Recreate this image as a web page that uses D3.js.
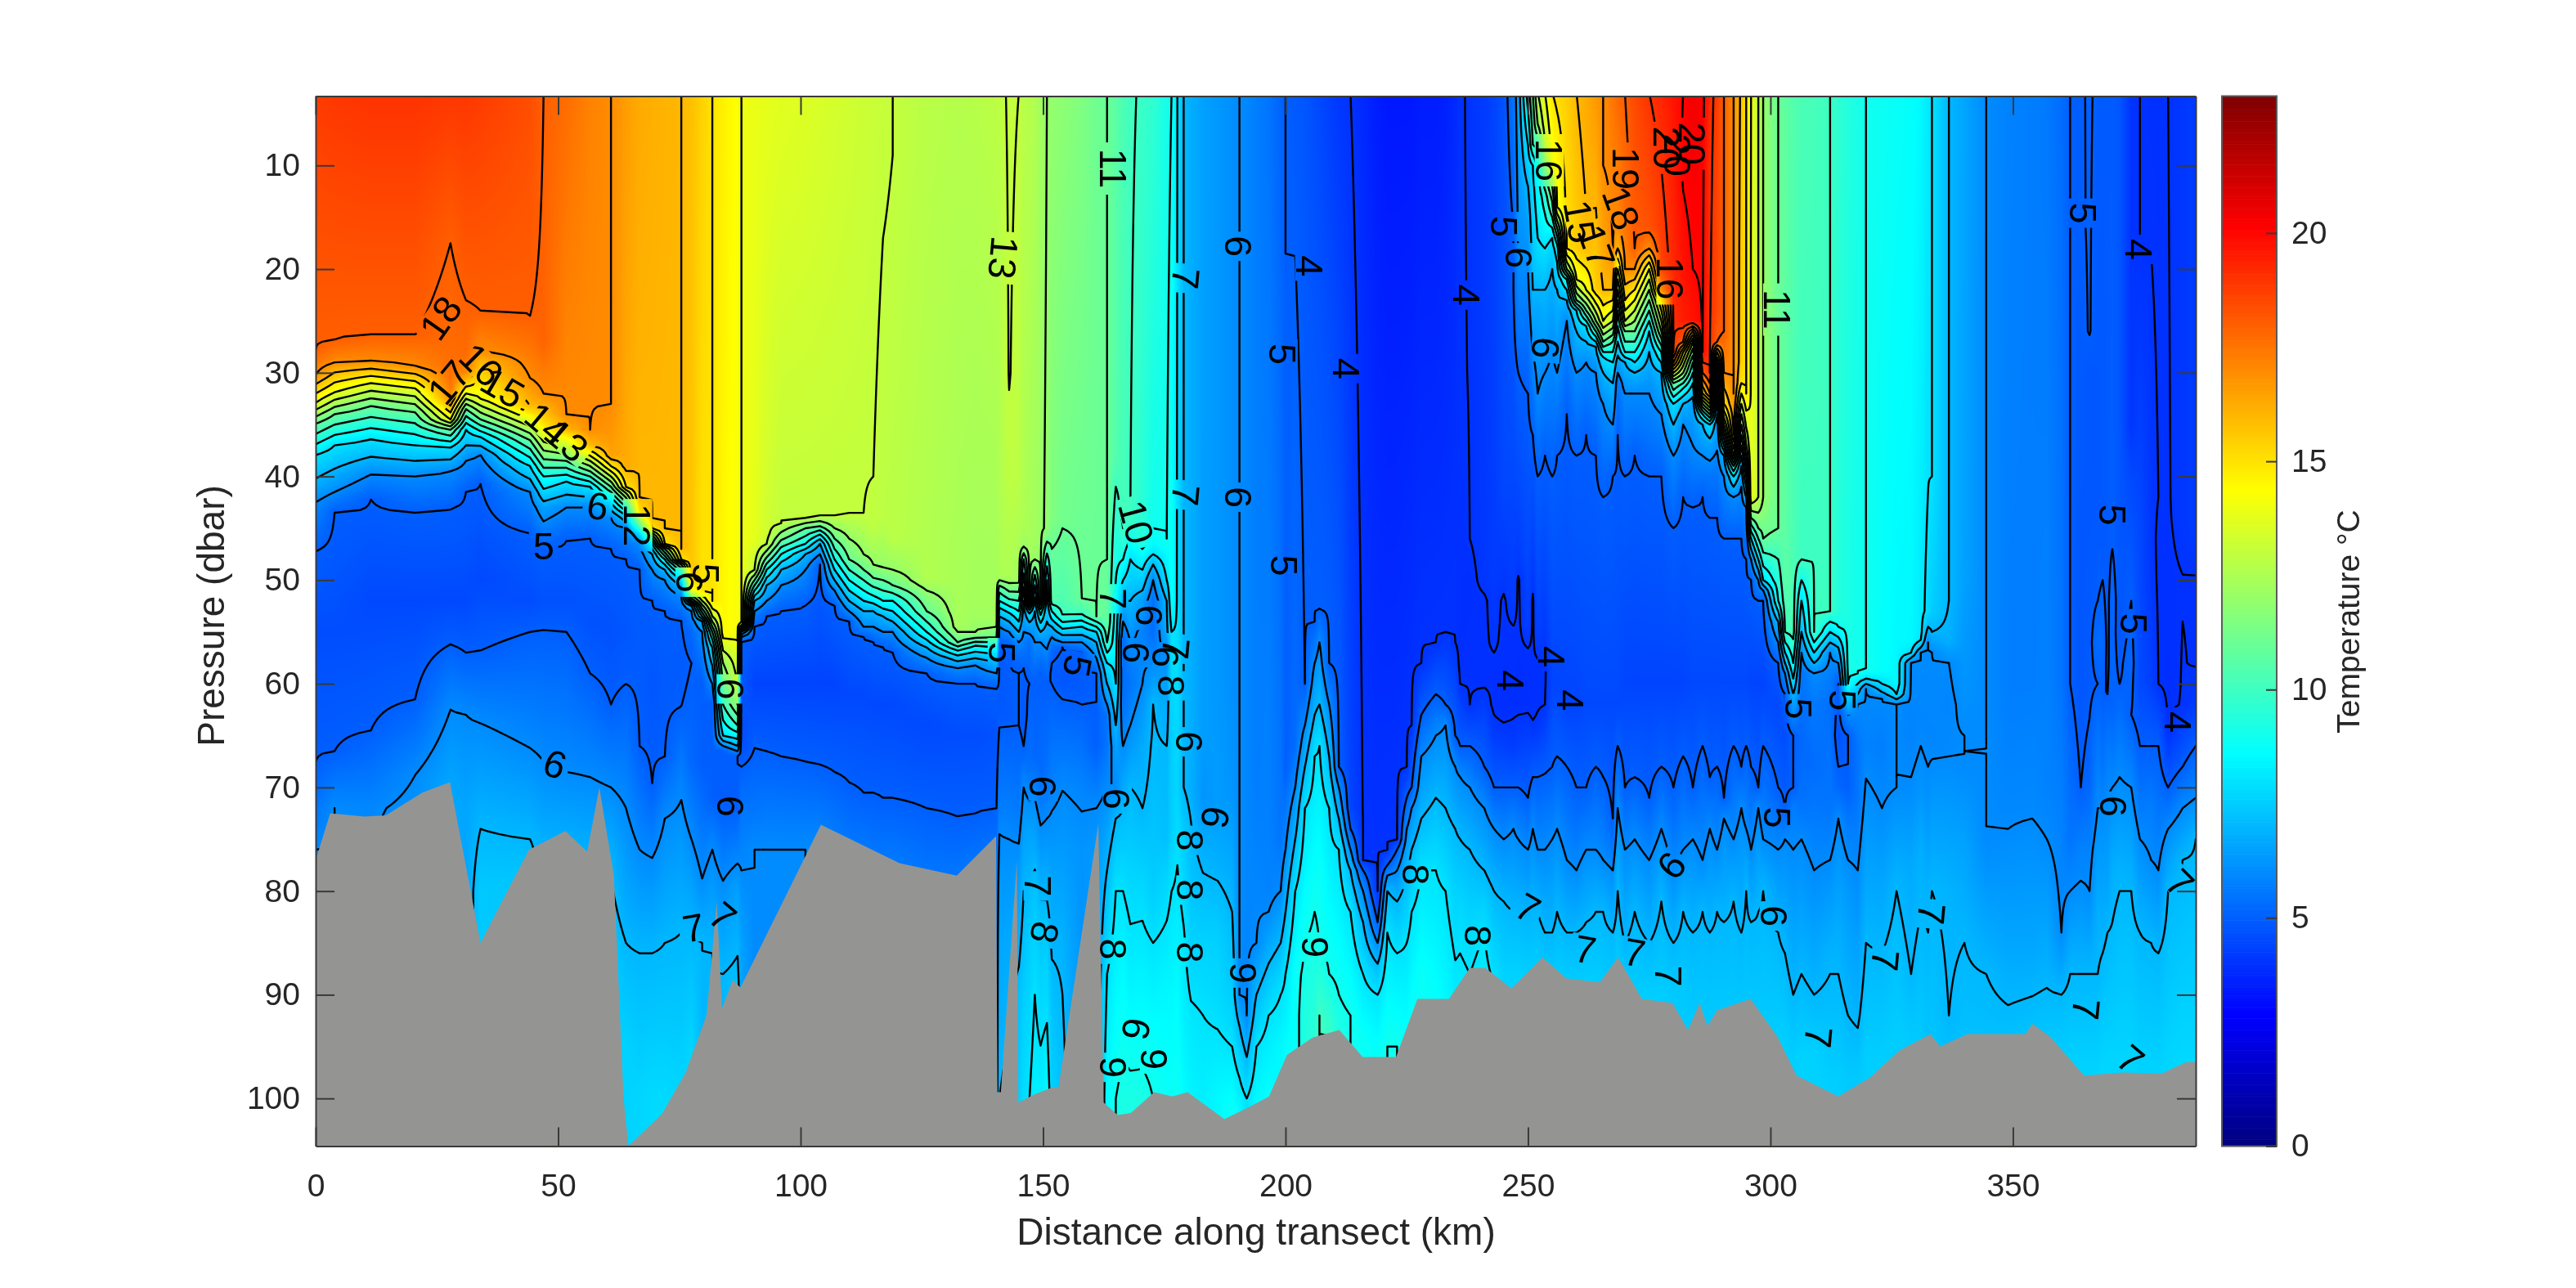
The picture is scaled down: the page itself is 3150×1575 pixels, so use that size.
<!DOCTYPE html>
<html><head><meta charset="utf-8">
<script src="https://d3js.org/d3.v7.min.js"></script>
<style>html,body{margin:0;padding:0;background:#fff;width:3150px;height:1575px;overflow:hidden}
#wrap{position:relative;width:3150px;height:1575px}canvas,svg{position:absolute;left:0;top:0}
text{font-family:"Liberation Sans",Arial,sans-serif}</style></head><body><div id="wrap"></div>
<script>
// Each row: distance km, then pressure,temperature pairs
const profiles=[
[0,3,18.8,27.8,18,30.2,17,32.9,14,34.9,11,37.9,8,42.5,6,47.2,5,55,4.6,67.5,5,76,6],
[3.9,3,18.9,26.9,18,29,17,31.9,14,34,11,37,8,41.5,6,43.5,5,55,4.6,66.5,5,72,6],
[11.4,3,19,26.4,18,28.9,17,31,14,33.2,11,36.4,8,39.8,6,42.2,5,52,4.5,64.5,5,72,5.9,76,6],
[20.5,3,19,26.4,18,29.4,17,31.5,14,33.8,11,37,8,40,6,43.5,5,52,4.5,61.5,5,68.8,6,74,6.3],
[27.8,3,18.9,17.5,18,31,17.6,32.5,17,34.5,14,35.5,11,37.2,8,39.5,6,43.1,5,52,4.5,56.2,5,62.5,6,69.5,6.6],
[31,3,18.9,23,18,28.5,17.7,30,17,32,14,33.5,11,35.5,8,38.5,6,41.5,5,52,4.5,57,5,63,6,72,6.6],
[34,3,18.8,24,18,27.9,17,29,16,32.5,14,34.5,11,36.2,8,37.9,6,40.7,5,50,4.5,56.8,5,63.8,6,74,7,80,7.4],
[44.2,3,18.4,24.5,18,30.5,17,33.2,16,34.5,14,36.5,11,39,8,41.5,6,45.5,5,52,4.6,55,5,66.2,6,75,7,79,7.3],
[47,3,18,27,17.9,32,17,35,15,37.5,12,40,9,43,6.5,47,5,52,4.7,54.8,5,67.5,6,75,6.8],
[51.7,3,17.7,34,17,35.5,16,36.5,14,38.5,11,40.5,8,43,6,46.2,5,52,4.7,55,5,68.5,6,76,6.9],
[56.6,3,17.2,35.5,17,37,16,38,14,39.5,11,41,8,43,6,46,5,54,4.7,59,5,69,6,76,6.8],
[60.9,3,17,33,17,38,16.5,39,15,40,13,41,11,42.5,8,44,6,47,5,55,4.7,62,5,70,6,77,6.9,88,7.5],
[64,3,16.6,39,16.3,41,15,41.6,13,42.5,11,43.7,8,45,6,48,5,55,4.8,60,5,72,6,85,7,95,7.6],
[66.8,3,16.3,42,16,43.5,15,44,13,44.7,11,45.5,8,46.5,6,49,5,56,4.9,66,5,76,6,86,7,100,7.7],
[69.4,3,16.2,44,16,45,15,45.7,12,46.5,9,47.5,7,49,6,52,5,60,4.8,69.7,5,76.8,6,86,7,100,7.8],
[72,3,16.1,45,16,46.5,15,47,12,48,9,49,7,50,6,53,5,60,4.9,67,5,73,6,85,7,100,7.8],
[75.4,3,16,47,16,48,15,48.5,12,49.5,9,50.5,7,51.5,6,53.8,5,58,4.9,62.2,5,71.2,6,84,7,100,7.7],
[77.5,3,15.8,50,15.7,51,14,52,10,52.5,7,53,6,55,5.2,58,5,67.5,5.2,75,6,84,7,95,7.7],
[79.7,3,15.4,51,15,52,13,53.5,9,54,7,55,6,60,5,68,5,78.8,6,85,7],
[81.8,3,15,52,15,53.5,13,55,10,56.5,8,60,6,62,5,71,5,76,6,86,7],
[84,3,14.7,55,14.5,58,12,62,10,65,8,66,6,66.5,5,71.8,5,79,6,88,7],
[87,3,14.3,55,14.2,60,13,62,12,64,10,66,7,67,5,72,5,80,6.5,90,7.3],
[87.8,3,14,54.2,14,54.6,11,55,8,55.5,6,56,5,66,4.6,68,5,72,5.5,78,6,85,6.5],
[90.5,3,13.9,46,13.8,49,13,50,11,51,9,52,7,53,6,54.5,5,60,4.4,66.2,5,72,5.5,76,6],
[93,3,13.8,45.5,13.3,46.5,13,47.5,11.5,49,9,50.5,7,52,6,53.5,5,60,4.4,66.5,5,76,6],
[96,3,13.7,44.5,13,45.8,11.5,47.5,9,49,7,50.5,6,53,5,60,4.4,67,5,76,6],
[101,3,13.6,44,13,45,11,46.5,9,47.5,7,49,6,52.4,5,60,4.4,67.5,5,76,6],
[104,3,13.5,43.8,13,44.8,11,45.6,9,46.5,7,47.5,6,48.5,5,60,4.4,67.8,5,72,5.5,75,5.9],
[107,3,13.4,43.8,13,45,12,46,11,48,9,50,7,51,6,52.4,5,60,4.4,68.5,5,76,5.8],
[110,3,13.3,43.7,13,46,12,48,11,50,9,52,7,53,6,54,5,61,4.5,69.5,5,77,5.7],
[113,3,13.2,43.5,13,47.5,12,49,11,51,9,53,7,54.5,6,55.5,5,61,4.5,70.5,5,77,5.7],
[115,3,13.15,40,13,45,12.9,48.5,12,49.8,11,51.5,9,53,7,54.5,6,56,5,62,4.5,70.5,5,77,5.6],
[117,3,13.1,17,13,44,12.85,48.8,12,50,11,52,9,53.5,7,55,6,56.5,5,62,4.5,71,5,77,5.6],
[119,3,13,9,13,46,12.8,49,12,50.5,11,52,9,54,7,55,6,57,5,62,4.5,71,5,77,5.6],
[126,3,12.8,50,12.6,51,12,53,11,55,9,56.5,7,57.5,6,59,5,64,4.5,72,5,78,5.5],
[132.4,3,12.7,54.5,12.4,55,12,56,11,56.8,9,57.5,7.5,58.5,6,60,5,65,4.6,72.8,5,78,5.5],
[136,3,12.75,53,12.3,55,12,55.6,11,56.3,9,57.2,7.5,58.2,6,60,5,65,4.6,72.5,5,77,5.5],
[140.4,3,12.85,53.8,12.3,54.5,12,55.5,11,56.5,9,57.5,7.5,59,6,60.5,5,65,4.7,72,5,76,5.5],
[141,3,12.9,49.5,12.5,50,12,50.8,10.5,52,9,53,7.5,54.5,6,56,5,62,4.8,72,5.7,74.5,6,85,6.6,100,7],
[143,3,13.05,30,13.02,40,12.9,49.8,12.5,50.3,12,51.5,10.5,52.5,9,53.5,7.5,55,6,56.5,5,63,4.9,72,5.7,75,6,85,6.7,100,7.2],
[145,3,13,40,12.85,50,12.3,52,10,54,8,56,6,57.5,5.3,59,5,64,5,72,5.6,78,6.3,90,7.2,100,7.5],
[146,3,12.8,45,12.5,46.8,12,48,10,50,8.5,52,7,55,6,58.5,5,63,4.8,66,5,70,6,80,7,90,7.5,100,7.9],
[147.2,3,12.7,46,12.4,52,12,52.6,10,53.2,8,54.5,6.5,56,5.4,60,5,68,5.4,74,6.5,85,7.5,100,8],
[148.3,3,12.6,46,12.3,48,12,49.5,10,51,8.5,53,7,56,6,60,5,67,5.2,71,6,80,7.3,90,8,100,8.3],
[149.5,3,12.3,48,12.1,52,12,53,9.5,54.5,7.5,56,6,59,5,69,5.3,75,6.2,83,7.3,100,8.3],
[150.8,3,12,45,11.9,46.3,11,48,9.5,50,8,54,7,58,5.5,60,5,70,5.5,73,6,84,7.4,100,8.5],
[151.8,3,11.95,44,11.5,47,11,52,10.5,53,9,53.8,8,54.5,7,55.5,6,57,5.1,59,4.9,60,5,70,5.8,78,6.5,90,7.2,100,7.6],
[154,3,11.8,44.5,11.2,45,11,52.5,10.3,53.4,10,54.7,8,55.3,7,56,6,56.5,5,60,4.8,61.5,5,70.3,6,85,6.9,100,7.2],
[158,3,11.5,51.9,11,53.3,10,54.5,8,55.3,7,56,6,57,5,60,4.9,62,5,70.5,5.9,76,6.2],
[161,3,11.1,53.5,11,54,10,55,8,56,7,57.5,6,59,5,66,5,72,6,76,6.3],
[163.2,3,11,48,11,54,10.8,56,10,58,8,60,7,62,6,63,5.5,66,5.5,70,6,78,7,88,8,100,8.6],
[165,3,10.7,38,10.5,41,10,50,9,54,8.5,60,8,64,7,66,6.5,70,6,73,7,80,8,90,8.5,100,9],
[166.5,3,10.3,43,10.2,45,10,48,9,50,8,52,7,54,6,56,5.2,62,5.4,66,6,72,7,80,8,90,8.7,100,9.2],
[168,3,10.1,44,10,46,9,48,8,52,7,56,6,60,5.5,64,6,70,7,80,7.8,88,8.3,100,9.2],
[170.5,3,9.9,46,9.5,48,8.5,50,7.5,52,6.5,55,5.8,60,6,66,6.7,72,7,80,7.8,90,8.5,100,9.2],
[172.7,3,9.7,45,9,46.7,8.5,47.5,8,48.5,7,50,6,52,5.4,55,5.3,58,6,62,7,72,7.2,80,7.5,85,8,95,8.8,100,9],
[175.5,3,9.1,46,9,48,8.5,50,8,52,7,55,6.8,57,6,60,6.5,66,7,75,7.2,80,7.8,90,8.5,100,8.8],
[176.5,3,9,52,8.8,55,8,60,7.8,66,7.5,74,7.5,80,8,90,8.5,100,8.8],
[177.7,3,8,60,7.9,70,7.7,80,8.1,90,8.6,100,8.9],
[179,3,7,70,7,75,7.5,85,8.1,95,8.4,100,8.6],
[180.5,3,6.8,70,6.8,75,7.1,85,7.6,92,8.1,100,8.4],
[183,3,6.5,65,6.4,71,6.2,76,6.8,85,7.6,92,8,100,8.3],
[186,3,6.3,60,6.3,72,6.4,78,6.9,84,7.5,92,7.9,100,8.5],
[189,3,6.1,60,6.1,70,6.2,82,7,90,7.5,95,8,101,8.8],
[190.5,3,6,90,6,93,7,98,8,101,8.5],
[192,3,5.9,85,5.9,92,6,96,7,100,8],
[194,3,5.7,70,5.7,85,6,90,7,95,8,101,8.6],
[196.5,3,5.5,80,5.8,82,6,87,7,92,8,100,8.7],
[199,3,5.1,75,5.5,80,6,85,7,90,8,95,8.5],
[200,3,5,68,5,76,6,82,7,88,8,95,8.6],
[202,3,4.9,66,5.3,70,6,75,7,80,8,88,8.8],
[204,3,4.8,60,5,64,6,68,7,72,8,85,9,92,9.3],
[206,3,4.6,54,5,58,6,63,7,67,8,82,9,95,9.6],
[207,3,4.5,52.8,5,56,6,62,7,66,8,78,8.8,85,9,92,10],
[209,3,4.3,58,5,62,6,67,7,72,8,88,9,94,10],
[211,3,4.1,68,5,70,6,73,7,76,8,90,9,94,9.3],
[213.4,3,4,72,4.4,74,5,76,6,78,7,82,8,92,9],
[216,3,3.8,77,4,78,5,80,6,83,7,88,8,94,8.8],
[219,3,3.5,80,4,83,5,85,6,87,7,90,8,95,8.7],
[221,3,3.4,76,4,77.5,5,78.5,6,80,7,84,8,95,9],
[223,3,3.4,75,4,76,5,78,6,81,7,86,8,95,9],
[225,3,3.4,68,4,71,5,74,6,78,7,85,8,95,8.8],
[226,3,3.4,64,4,70,5,72,6,76,7,82,8,92,8.8],
[228,3,3.5,58,4,63,5,67,6,73,7,78,8,88,8.8],
[231,3,3.5,56,4,61,5,65,6,71,7,78,8,90,8.7],
[233,3,3.6,55,4,62,5,64,6,72,7,80,8,90,8.5],
[235,3,3.8,56,4,65,5,68,6,74,7,80,7.6,90,8.2],
[236,3,3.98,30,3.98,58,3.9,60,4,66,5,69,6,75,7,82,7.8,90,8.2],
[238,3,4.02,46,4,50,3.9,58,3.95,62,4,66,5,70,6,76,7,84,7.8,90,8.1],
[241,3,4.2,50,4.1,52,3.95,60,3.95,64,4.5,68,5,72,6,78,7,84,8,88,8.2],
[243,3,4.4,48,4.2,56,4.05,58,3.95,62,3.9,65,4.2,70,5,74,6,80,7,88,7.9],
[245,3,4.7,40,4.5,50,4.1,52,3.95,63,3.9,66,4.3,70,5,75,6,81,7,88,7.6],
[247,3,5.5,16,5,22,5,30,4.7,52,4.2,55,3.95,62,3.9,66,4.2,70,5,74,6,82,7,88,7.6],
[248,3,6.5,20,6,26,5.5,30,5,48,4.2,50,3.95,62,3.9,66,4.3,70,5,75,6,82,7,88,7.6],
[250,3,9.5,8,8,12,7,15,6.5,20,6,25,5.5,32,5,54,4.3,57,3.95,62,3.9,66,4.4,71,5,76,6,83,7,90,7.7],
[251,3,11,8,10,10,8,16,7.5,22,7,28,6,36,5,50,4.1,52,3.95,63,3.95,64.5,4.1,69,5,74,6,82,7,90,7.7],
[252,3,13,6,12,8.5,10,12,8.5,17,8,24,6.6,32,6,40,5,55,4.3,58,3.95,62,3.95,64,4.1,69,5,76,6,82,7,90,7.7],
[253.5,3,14,8,13,11,11,13,9.5,18,8,22,7,30,6,38,5,56,4.1,59,3.95,62,4,66,4.6,72,5.5,76,6,84,7,90,7.6],
[255,3,15,10,14,12,12,15,10,17,8,20,7,28,6,40,5,60,4.4,68,5,75,6,84,7,90,7.6],
[256,3,15.2,14,14,16,11,18,8.5,22,7,30,6,38,5,60,4.4,67,5,74,6,82,7,90,7.6],
[258,3,15.5,18,15,20,12,21,9,23,7,25,6,34,5,62,4.4,68,5,77,6,84,7,90,7.6],
[260,3,16,18,15.5,21,14,23,11,24,8,26,7,30,6,38,5,62,4.4,70,5,78,6,84,7,90,7.6],
[262,3,16.3,18,15.9,22,14,24,11,25.5,8,27,7,29,6,36,5,62,4.5,70,5,76,6,83,7,90,7.6],
[264,3,16.7,22,15.5,25,12,26.5,9,27.5,7,30,6,38,5,62,4.5,68,5,76,6,82,7,90,7.6],
[265.5,3,17,10,17,22,16,25,14,27,11,28.5,8,30,7,33,6,42,5,62,4.5,69,5,77,6,82,7,90,7.5],
[267.5,3,17.5,10,17.2,18,17,22,16,25,13,27,10,29,8,31,7,35,6,40,5,62,4.5,73,5,78,6,84,7,90,7.5],
[268.5,3,17.8,16,17,18,16,20,14,22,12,24,10,27,8,29,6.5,31,5.5,36,5,62,4.5,66,5,72,6,80,7,90,7.6],
[270,3,18,14,17.7,20,17,23,15,25,13,26,11,28,9,29,7,32,6,40,5,60,4.4,70,5,76,6,85,7,90,7.5],
[272,3,18.5,18,18,20,17,22,15,24,13,26,11,28,9,30,7,32,6,38,5,60,4.4,69,5,75,6,82,7,90,7.5],
[275,3,19,16,18.3,18,17,20,14,22,12,24,10,26,8,28,7,32,6,40,5,60,4.4,71,5,77,6,85,7,90,7.5],
[277.5,3,19.3,20,18.6,22,17,23,15,26,12,28,9,30,7,34,6,40,5,60,4.4,68,5,74,6,81,7,90,7.5],
[280,3,19.7,28,19,29,17,30,14,31,11,33,8,35,7,38,6,45,5,60,4.4,70,5,78,6,85,7,90,7.4],
[282,3,20,10,20.1,25,19.5,27,18,28,15,30,12,31.5,9,33,7,35,6,42,5,60,4.4,67,5,76,6,82,7,90,7.4],
[284,3,20.4,20,20,25,19.7,25.5,18,26,16,27,13,29,10,31,8,33,6.5,37,6,43,5,60,4.5,70,5,75,6,84,7,92,7.4],
[286,3,20.2,28,20,30,18,32,15,33,12,34,9,35,7,38,6,42,5,60,4.5,66,5,77,6,82,7,92,7.4],
[287.5,3,19.2,30,19,32,17,33,14,34,11,35,8,37,6.5,40,5.5,44,5,60,4.5,69,5,74,6,84,7,92,7.4],
[289,3,18.8,24,18.5,27,18,28,15,30,11,32,8,35,6.5,40,5.5,44,5,60,4.5,68,5,76,6,82,7,92,7.4],
[290.4,3,18,26,18,30,17,33,15,35,12,37,9,38,7,40,6,46,5,60,4.5,71,5,73,6,83,7,92,7.4],
[292.4,3,17,32,17,36,16,38,13,39,10,40,8,42,6,46,5,60,4.5,66,5,75,6,81,7,92,7.4],
[294,3,15.8,29,15.5,31,15,33,13,35,11,37,9,39,7,41,6,46,5,60,4.5,68,5,72,6,84,7,92,7.4],
[295,3,15,32,15,37,12,39,10,41,8,43,6,48,5,60,4.5,66,5,74,6,80,7,92,7.4],
[296,3,14,42,13.9,44,11,46,8,48,6,50,5,60,4.4,68,5,76,6,83,7,92,7.4],
[297.5,3,13,42,13,45,11,48,8,50,6,52,5,60,4.4,70,5,72,6,82,7,92,7.4],
[298.5,3,12,42,12,46,11,50,8,51,6,52,5,60,4.4,66,5,75,6,80,7,92,7.4],
[301.6,3,11,45,11,48,10,52,9,54,7,56,6,58,5,62,4.5,70,5,76,6,84,7,94,7.5],
[303,3,10.8,50,10.7,55,10,57,8,59,6,61,5,65,4.6,72,5,75,6,86,7,94,7.5],
[304.7,3,10.5,55,10.3,58,9,61,7,63,6,65,5,70,5,72,5.7,76,6,90,7,96,7.5],
[306.4,3,10.3,48,10,50,9,52,8,55,7,57,6,59,5.5,66,5.2,72,5.5,75,6,88,7,96,7.6],
[309,3,10.2,55,10,56,9,57,8,58,7,59,6,62,5.6,68,5.3,78,6,90,7,96,7.6],
[312.3,3,10,53,10,54,9,55,8,56,7,57,6,62,5.4,72,5.5,77,6,86,6.9,98,7.5],
[314,3,9.7,53,9.4,54.5,9,55.5,8,56.5,7,58,6,60,5,65,4.7,70,5.2,73,6,84,6.8,98,7.5],
[316,3,9.4,58,9.2,60,9,61,8,62,7,63,6,65,5,70,5,74,5.7,80,6.3,92,7,98,7.4],
[318,3,9.2,59,9,60,8,61,7,62,6,66,5.5,71,5.5,78,6,92,6.9,98,7.4],
[319.7,3,9,58.7,9,59.5,8,60,7,60.5,6,66,5.8,77,6.5,85,7,96,7.5],
[323,3,8.9,58.8,8.7,60,8,60.8,7,61.3,6,66,5.7,72,6,78,6.5,86,7,96,7.5],
[326,3,8.8,60,8.5,61,8,61.5,7,62,6,70,6,75,6.5,80,7,94,7.5],
[329,3,8.7,56,8.5,57,8,57.5,7,58,6,65,5.8,71,6.1,78,6.7,88,7,94,7.4],
[331,3,8.5,55,8.2,55.8,8,56.5,7,57,6,64,5.9,70,6.2,76,6.8,85,7.1,94,7.4],
[332.5,3,8.2,41.5,8,53,7.8,54.5,7,56,6,66,5.9,72,6.2,80,6.9,92,7.2],
[333.3,3,8,40,8,53,7.5,55,7,57,6,66,5.9,80,7,94,7.3],
[336.8,3,7,52,7,56,6.8,58,6,62,5.9,67,6,80,6.9,92,7,96,7.2],
[340,3,6.6,50,6.5,60,6.2,65,6,68,6,75,6.5,85,7,94,7.2],
[344.5,3,6,60,6,66,6,75,6,78,6.2,88,7,94,7.2],
[349,3,5.8,60,5.7,66,5.8,74,6,85,6.6,94,7.2],
[354,3,5.7,60,5.7,73,6,85,6.6,94,7.3],
[357,3,5.6,70,5.8,75,6,88,6.9,96,7.5],
[360,3,5.3,60,5.5,80,5.9,84,6,90,7,97,7.6],
[361.8,3,5,60,5,75,5.5,80,6,88,7,97,7.6],
[364,3,4.97,16,4.97,40,4.85,60,4.8,70,5,76,5.8,79,6,88,7,97,7.6],
[365.8,3,5.03,26,5.02,30,4.8,48,4.85,60,4.9,70,5.2,76,5.8,80,6,88,7,97,7.6],
[367.5,3,4.95,40,4.8,48,4.9,52,5,56,5.3,60,5,65,5.5,72,6,82,6.8,88,7,97,7.6],
[368.5,3,4.9,46,4.85,50,5,56,5.2,61,5,68,5.5,72,6,80,6.6,86,7,97,7.7],
[369.5,3,4.9,50,4.9,58,4.95,61,5,66,5.6,71,6,80,6.6,84,7,97,7.7],
[370.5,3,4.95,47,5,52,5.2,62,5.1,66,5.5,70,6,78,6.8,83,7,97,7.7],
[372,3,4.8,55,4.8,60,5,64,5.5,69,6,78,6.9,82,7.1,97,7.7],
[374.4,3,4.02,35,4.05,40,4.5,52,5,58,5.2,63,5,70,6,80,7,97,7.7],
[376.2,3,4,18,4,30,4.2,45,4.5,60,4.5,66,5,70,5.4,75,6,84,7,97,7.6],
[378.5,3,3.95,50,4.1,60,4.3,66,5,72,5.7,77,6,85,7,97,7.6],
[380,3,3.95,42,4,46,3.95,60,4,66,5,72,5.5,78,6,86,7,97,7.6],
[382,3,4,42,3.98,60,3.9,65,4,70,5,74,6,80,7,97,7.7],
[385,3,4.1,44,4.1,50,3.99,62,4.02,64,4.3,68,5,72,6,77,7,97,7.8],
[387.7,3,4.2,45,4.2,50,3.98,58,3.98,62,4.2,66,5,71,6,75,7,97,7.8]
];
const bottomKm=[0,3,10,14.5,22,27.7,34,44,51.5,56,58.5,61.5,63.5,64.5,71.4,76.3,80.6,82.7,83.8,86,87.6,104.2,120.4,132.2,140.3,140.6,141.3,144.6,144.9,148.3,152.1,153.2,161.4,162.5,165.4,168.1,172.9,176.7,179.8,187.4,191.8,196.6,200.3,205.7,211.1,215.9,222.8,227.2,233.7,238,241.2,246.6,253,257.9,264.8,268.6,273.5,279.8,283,285.4,287,289,295.9,301.4,305.4,314,320.5,326.5,333,335,340.6,352.6,354,357.6,364.7,372.7,380.7,385.7,387.7];
const bottomP=[77,72.5,72.8,72.7,70.5,69.5,85,76,74.2,76.2,70,78.5,100,104.6,101.5,97.5,92,81,91.3,88.6,89.3,73.6,77.3,78.5,74.7,99.4,99.4,77.1,100.4,99.6,98.9,98.9,73.5,100.4,101.6,101.4,99.4,99.8,99.4,102,101,99.8,95.8,94.1,93.4,96,96,90.4,90.4,87.4,87.4,89.4,86.4,88.4,88.8,86.4,90.4,90.8,93.4,90.8,93,91.5,90.4,94,97.8,99.8,98,95.4,93.8,95,93.8,93.8,92.8,94,97.8,97.5,97.6,96.5,96.5];
const contourLevels=[4,5,6,7,8,9,10,11,12,13,14,15,16,17,18,19,20];
const xTicks=[0,50,100,150,200,250,300,350];
const yTicks=[10,20,30,40,50,60,70,80,90,100];
const cbTicks=[0,5,10,15,20];
const labelText=["18","17","16","15","14","13","6","12","5","6","6","7","7","6","5","6","13","11","5","5","6","7","8","7","6","4","5","4","7","6","5","10","7","6","6","6","7","8","6","6","6","8","8","8","8","6","9","9","9","9","8","8","4","5","6","6","4","4","4","16","15","17","19","18","20","20","20","16","11","5","5","6","5","6","7","7","7","7","7","7","7","5","4","5","5","4","6","7","7","7"];
const labelKm=[25.7,27.4,34.2,38.6,47.7,51.8,58.2,66.4,47,49.4,85.7,77.9,84,77.2,80.6,85.7,141.9,164.6,141.6,157.2,150,149,150.4,179.5,190.4,205,199.5,212.7,179.5,190.4,199.8,169.3,164.6,172,175.4,169.3,177.5,176.5,180.2,165.3,185.6,180.5,180.5,180.5,164.6,169.3,173,164.6,191.4,206.3,227,239.8,237.5,245.2,248.3,253.7,246.6,255,258.8,254.4,260.8,264.2,270.3,269.3,278.8,283.9,281,279.5,301.5,305.9,301.5,300.8,315,279.5,250,261.8,272,279,310,323.8,333.3,364.5,376,370.6,375,384.1,370.9,384.5,374.3,365.2];
const labelP=[24.7,30.9,29.2,31.4,34.9,36.5,42.8,44.7,46.7,67.7,71.8,83.5,82.4,50.2,49.4,60.5,18.9,10.3,57,58.3,69.9,79.5,84,20.9,17.8,19.7,28.2,29.6,41.8,42,48.6,44.4,51.8,53.4,57.4,57,56.6,60.2,65.6,71.1,72.9,75.1,79.9,85.9,85.6,93.3,96.2,97,87.9,85.4,78.4,84.3,22.5,15.9,18.9,27.6,59.7,57.4,61.6,9.5,15.4,17.8,10.3,14.1,8.3,7.9,9,20.9,23.9,62.4,72.9,82.4,61.6,77.5,81.6,85.6,85.9,88.2,94.1,86.7,82.2,14.6,18.1,43.7,54.2,63.7,71.8,79.2,96.2,91.4];
const labelRot=[-55,-50,45,30,40,40,10,90,0,20,90,-10,40,90,90,90,95,90,90,100,90,90,100,95,90,90,90,90,95,90,90,75,90,90,90,90,95,90,90,90,100,90,90,90,90,100,90,90,90,90,90,90,90,90,90,95,90,90,90,90,80,70,90,70,90,90,90,90,90,90,90,90,90,-50,30,10,10,90,95,95,95,90,90,90,90,90,90,45,40,95];

const W=3150,H=1575,L=386,R=2685,T=117.5,B=1401.5;
const x=d3.scaleLinear().domain([0,387.7]).range([L,R]);
const y=d3.scaleLinear().domain([3.31,104.6]).range([T,B]);
const jet=d3.scaleLinear().domain([0,.125,.375,.625,.875,1].map(t=>t*23)).range(["#00007f","#0000ff","#00ffff","#ffff00","#ff0000","#7f0000"]).clamp(true);
const dp=0.25,pMin=2,pMax=106;
const rows=d3.range(pMin,pMax+dp/2,dp);
const kms=[-3,...profiles.map(d=>d[0]),391];
const cols=[profiles[0],...profiles,profiles[profiles.length-1]];
const n=kms.length,m=rows.length;
const field=new Float64Array(n*m);
cols.forEach((d,i)=>{
  const ps=[],ts=[];
  for(let k=1;k<d.length;k+=2){ps.push(d[k]);ts.push(d[k+1]);}
  const s=d3.scaleLinear().domain(ps).range(ts).clamp(true);
  rows.forEach((p,j)=>{field[j*n+i]=s(p);});
});
const wrap=d3.select("#wrap");
const cv=wrap.append("canvas").attr("width",W).attr("height",H).node();
const ctx=cv.getContext("2d");
const img=ctx.createImageData(R-L,Math.round(B-T));
const lut=d3.range(0,1024).map(i=>d3.rgb(jet(i/1023*23)));
for(let py=0;py<img.height;py++){
  const p=y.invert(T+py+.5),fr=(p-pMin)/dp,j0=Math.min(m-2,Math.floor(fr)),jf=fr-j0;
  let c=0;
  for(let px=0;px<img.width;px++){
    const km=x.invert(L+px+.5);
    while(c<n-2&&kms[c+1]<km)c++;
    const cf=(km-kms[c])/(kms[c+1]-kms[c]);
    const a=field[j0*n+c]*(1-jf)+field[(j0+1)*n+c]*jf;
    const b=field[j0*n+c+1]*(1-jf)+field[(j0+1)*n+c+1]*jf;
    const v=a*(1-cf)+b*cf;
    const q=lut[Math.max(0,Math.min(1023,Math.round(v/23*1023)))];
    const o=(py*img.width+px)*4;
    img.data[o]=q.r;img.data[o+1]=q.g;img.data[o+2]=q.b;img.data[o+3]=255;
  }
}
ctx.putImageData(img,L,T);

const svg=wrap.append("svg").attr("width",W).attr("height",H);
const defs=svg.append("defs");
defs.append("clipPath").attr("id","plot").append("rect").attr("x",L).attr("y",T).attr("width",R-L).attr("height",B-T);
const mask=defs.append("mask").attr("id","gaps").attr("maskUnits","userSpaceOnUse").attr("x",0).attr("y",0).attr("width",W).attr("height",H);
mask.append("rect").attr("width",W).attr("height",H).attr("fill","#fff");
labelText.forEach((t,i)=>{
  const w=t.length*28+8,h=36;
  mask.append("rect").attr("x",-w/2).attr("y",-h/2).attr("width",w).attr("height",h).attr("fill","#000")
   .attr("transform",`translate(${x(labelKm[i])},${y(labelP[i])}) rotate(${labelRot[i]})`);
});
const colKm=d3.scaleLinear().domain(d3.range(n)).range(kms);
const path=d3.geoPath(d3.geoTransform({point(a,b){
  this.stream.point(x(colKm(a-.5)),y(pMin+(b-.5)*dp));
}}));
const gen=d3.contours().size([n,m]).thresholds(contourLevels);
const g=svg.append("g").attr("clip-path","url(#plot)");
g.append("g").attr("mask","url(#gaps)").selectAll("path").data(gen(field)).join("path")
 .attr("d",path).attr("fill","none").attr("stroke","#000").attr("stroke-width",2.4).attr("stroke-linejoin","round");
const area=d3.area().x((d,i)=>x(bottomKm[i])).y0(B).y1(d=>y(d));
g.append("path").attr("d",area(bottomP)).attr("fill","#949592");
g.selectAll("text").data(labelText).join("text").text(d=>d)
 .attr("transform",(d,i)=>`translate(${x(labelKm[i])},${y(labelP[i])}) rotate(${labelRot[i]})`)
 .attr("text-anchor","middle").attr("dy","0.36em").attr("font-size",47).attr("fill","#000");

function styleAxis(s){s.selectAll("path,line").attr("stroke","#3a3a3a").attr("stroke-width",2);
 s.selectAll("text").attr("fill","#262626").attr("font-size",39).attr("font-family",'"Liberation Sans",Arial,sans-serif');}
svg.append("g").attr("transform",`translate(0,${B})`).call(d3.axisBottom(x).tickValues(xTicks).tickSizeInner(-23).tickSizeOuter(0).tickPadding(34).tickFormat(d3.format("d"))).call(styleAxis);
svg.append("g").attr("transform",`translate(0,${T})`).call(d3.axisTop(x).tickValues(xTicks).tickSizeInner(-23).tickSizeOuter(0).tickFormat("")).call(styleAxis);
svg.append("g").attr("transform",`translate(${L},0)`).call(d3.axisLeft(y).tickValues(yTicks).tickSizeInner(-23).tickSizeOuter(0).tickPadding(19).tickFormat(d3.format("d"))).call(styleAxis);
svg.append("g").attr("transform",`translate(${R},0)`).call(d3.axisRight(y).tickValues(yTicks).tickSizeInner(-23).tickSizeOuter(0).tickFormat("")).call(styleAxis);

const CL=2717,CR=2784;
const cy=d3.scaleLinear().domain([0,23]).range([B,T]);
svg.append("g").selectAll("rect").data(d3.range(0,23,0.05)).join("rect")
 .attr("x",CL).attr("width",CR-CL).attr("y",d=>cy(d+0.05)).attr("height",d=>cy(d)-cy(d+0.05)+0.6).attr("fill",d=>jet(d+0.025));
svg.append("rect").attr("x",CL).attr("y",T).attr("width",CR-CL).attr("height",B-T).attr("fill","none").attr("stroke","#5a5a5a").attr("stroke-width",2);
svg.append("g").attr("transform",`translate(${CR},0)`).call(d3.axisRight(cy).tickValues(cbTicks).tickSizeInner(-13).tickSizeOuter(0).tickPadding(18).tickFormat(d3.format("d"))).call(styleAxis).call(s=>s.select(".domain").remove());

svg.append("text").text("Distance along transect (km)").attr("x",1536).attr("y",1522).attr("text-anchor","middle").attr("font-size",46).attr("fill","#262626");
svg.append("text").text("Pressure (dbar)").attr("transform","translate(274,753) rotate(-90)").attr("text-anchor","middle").attr("font-size",46).attr("fill","#262626");
svg.append("text").text("Temperature °C").attr("transform","translate(2885,760) rotate(-90)").attr("text-anchor","middle").attr("font-size",39).attr("fill","#262626");
</script></body></html>
